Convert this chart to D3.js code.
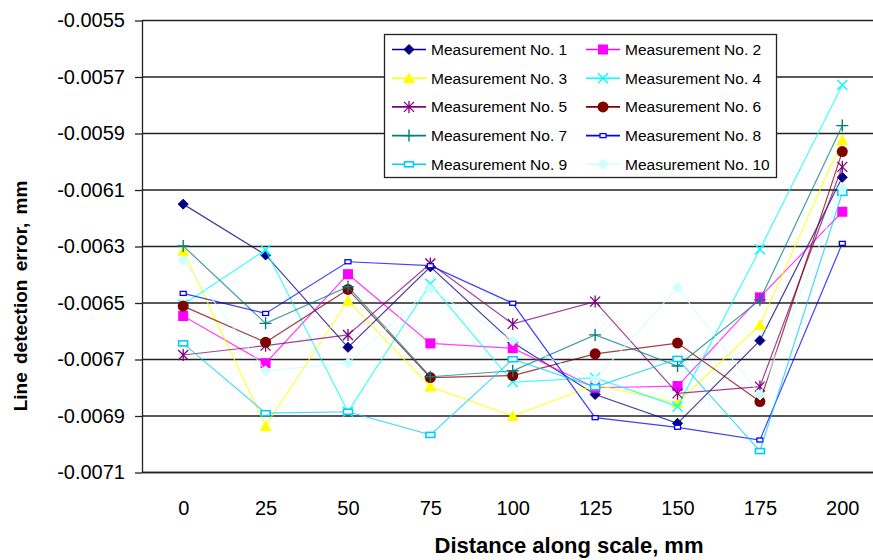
<!DOCTYPE html>
<html>
<head>
<meta charset="utf-8">
<script src="https://cdn.jsdelivr.net/npm/d3@7"></script>
<style>
  body { margin: 0; background: #fff; }
  text { font-family: "Liberation Sans", Arial, sans-serif; fill: #000; }
</style>
</head>
<body>
<script>
// categories along the scale (mm)
let distances = ["0", "25", "50", "75", "100", "125", "150", "175", "200"];

let m1  = [-0.006150, -0.006330, -0.006657, -0.006372, -0.006640, -0.006824, -0.006926, -0.006633, -0.006055];
let m2  = [-0.006546, -0.006713, -0.006398, -0.006643, -0.006660, -0.006800, -0.006794, -0.006480, -0.006177];
let m3  = [-0.006315, -0.006935, -0.006492, -0.006796, -0.006900, -0.006790, -0.006853, -0.006578, -0.005923];
let m4  = [-0.006505, -0.006312, -0.006885, -0.006432, -0.006780, -0.006765, -0.006866, -0.006310, -0.005728];
let m5  = [-0.006684, -0.006651, -0.006613, -0.006360, -0.006574, -0.006495, -0.006820, -0.006796, -0.006018];
let m6  = [-0.006511, -0.006639, -0.006452, -0.006764, -0.006757, -0.006680, -0.006642, -0.006849, -0.005964];
let m7  = [-0.006298, -0.006572, -0.006442, -0.006761, -0.006740, -0.006613, -0.006723, -0.006489, -0.005872];
let m8  = [-0.006466, -0.006537, -0.006354, -0.006368, -0.006501, -0.006906, -0.006940, -0.006985, -0.006289];
let m9  = [-0.006643, -0.006890, -0.006885, -0.006967, -0.006699, -0.006798, -0.006698, -0.007024, -0.006110];
let m10 = [-0.006348, -0.006740, -0.006713, -0.006450, -0.006634, -0.006770, -0.006446, -0.006826, -0.006094];

let seriesNames = ["Measurement No. 1", "Measurement No. 2", "Measurement No. 3", "Measurement No. 4",
                   "Measurement No. 5", "Measurement No. 6", "Measurement No. 7", "Measurement No. 8",
                   "Measurement No. 9", "Measurement No. 10"];
let seriesValues = [m1, m2, m3, m4, m5, m6, m7, m8, m9, m10];

let yTicks = [-0.0055, -0.0057, -0.0059, -0.0061, -0.0063, -0.0065, -0.0067, -0.0069, -0.0071];

// styles (excel-ish palette and marker kinds)
let colors  = ["#000080", "#ff00ff", "#ffff00", "#00ffff", "#800080", "#800000", "#008080", "#0000ff", "#00ccff", "#ccffff"];
let markers = ["diamond", "square", "triangle", "x", "star", "circle", "plus", "smallrect", "rect", "diamond"];

let W = 873, H = 560;
let plot = {left: 142, top: 20.5, bottom: 472.5, right: 883.5};

let svg = d3.select("body").append("svg")
    .attr("width", W)
    .attr("height", H);

let xScale = d3.scalePoint().domain(distances).range([plot.left, plot.right]).padding(0.5);
let yScale = d3.scaleLinear().domain([-0.0071, -0.0055]).range([plot.bottom, plot.top]);

// gridlines
svg.append("g")
  .selectAll("line")
  .data(yTicks)
  .enter().append("line")
    .attr("x1", plot.left).attr("x2", W)
    .attr("y1", d => yScale(d)).attr("y2", d => yScale(d))
    .attr("stroke", "#222").attr("stroke-width", 1.3);

// y axis
let yAxis = svg.append("g")
  .attr("transform", "translate(" + plot.left + ",0)")
  .call(d3.axisLeft(yScale).tickValues(yTicks).tickSize(7).tickSizeOuter(0)
        .tickFormat(d => d3.format(".4f")(d).replace("\u2212", "-")));
yAxis.select(".domain").attr("stroke", "#222").attr("stroke-width", 1.3);
yAxis.selectAll(".tick line").attr("stroke", "#222").attr("stroke-width", 1.3);
yAxis.selectAll(".tick text")
  .attr("x", -17)
  .style("font-size", "20px")
  .style("font-family", "Liberation Sans, Arial, sans-serif");

// x axis (no tick marks, just labels)
let xAxis = svg.append("g")
  .attr("transform", "translate(0," + plot.bottom + ")")
  .call(d3.axisBottom(xScale).tickSize(0).tickPadding(28));
xAxis.select(".domain").attr("d", "M" + plot.left + ",0H" + W).attr("stroke", "#222").attr("stroke-width", 1.3);
xAxis.selectAll(".tick text")
  .style("font-size", "20px")
  .style("font-family", "Liberation Sans, Arial, sans-serif");

// axis titles
svg.append("text")
  .attr("x", 569).attr("y", 553)
  .attr("text-anchor", "middle")
  .style("font-size", "22px").style("font-weight", "bold")
  .text("Distance along scale, mm");

svg.append("text")
  .attr("transform", "translate(27,296) rotate(-90)")
  .attr("text-anchor", "middle")
  .style("font-size", "19px").style("font-weight", "bold")
  .style("word-spacing", "3px")
  .text("Line detection error, mm");

// marker drawing
function drawMarker(g, kind, color) {
  if (kind === "diamond") {
    g.append("path").attr("d", "M0,-5L5,0L0,5L-5,0Z").attr("fill", color).attr("stroke", color);
  } else if (kind === "square") {
    g.append("rect").attr("x", -5).attr("y", -5).attr("width", 10).attr("height", 10).attr("fill", color);
  } else if (kind === "triangle") {
    g.append("path").attr("d", "M0,-6L6,5L-6,5Z").attr("fill", color);
  } else if (kind === "circle") {
    g.append("circle").attr("r", 5.5).attr("fill", color);
  } else if (kind === "x") {
    g.append("path").attr("d", "M-5,-5L5,5M-5,5L5,-5").attr("stroke", color).attr("stroke-width", 1.4);
  } else if (kind === "plus") {
    g.append("path").attr("d", "M-6,0H6M0,-6V6").attr("stroke", color).attr("stroke-width", 1.4);
  } else if (kind === "star") {
    g.append("path").attr("d", "M-5,-5L5,5M-5,5L5,-5M0,-6V6").attr("stroke", color).attr("stroke-width", 1.3);
  } else if (kind === "smallrect") {
    g.append("rect").attr("x", -3).attr("y", -2).attr("width", 6).attr("height", 4)
      .attr("fill", "#fff").attr("stroke", color).attr("stroke-width", 1.3);
  } else if (kind === "rect") {
    g.append("rect").attr("x", -4.5).attr("y", -2.5).attr("width", 9).attr("height", 5)
      .attr("fill", "#fff").attr("stroke", color).attr("stroke-width", 1.6);
  }
}

let line = d3.line()
  .x((d, i) => xScale(distances[i]))
  .y(d => yScale(d));

let series = svg.append("g").selectAll("g.series")
  .data(seriesValues)
  .enter().append("g")
    .attr("class", "series");

series.append("path")
  .attr("d", d => line(d))
  .attr("fill", "none")
  .attr("stroke", (d, i) => colors[i])
  .attr("stroke-width", 1.2)
  .attr("stroke-opacity", 0.75);

series.each(function(vals, si) {
  d3.select(this).selectAll("g.mk")
    .data(vals)
    .enter().append("g")
      .attr("class", "mk")
      .attr("transform", (d, i) => "translate(" + xScale(distances[i]) + "," + yScale(d) + ")")
      .each(function() { drawMarker(d3.select(this), markers[si], colors[si]); });
});

// legend
let legend = svg.append("g");
legend.append("rect")
  .attr("x", 384.5).attr("y", 34.5).attr("width", 392).attr("height", 143)
  .attr("fill", "#fff").attr("stroke", "#222").attr("stroke-width", 1.3);

let colX = [392, 586];
let rowY = d3.range(5).map(r => 49.5 + r * 28.7);

seriesNames.forEach(function(name, i) {
  let g = legend.append("g")
    .attr("transform", "translate(" + colX[i % 2] + "," + rowY[Math.floor(i / 2)] + ")");
  g.append("line").attr("x1", 0).attr("x2", 34).attr("y1", 0).attr("y2", 0)
    .attr("stroke", colors[i]).attr("stroke-width", 1.6);
  drawMarker(g.append("g").attr("transform", "translate(17,0)"), markers[i], colors[i]);
  g.append("text")
    .attr("x", 39).attr("y", 0).attr("dy", "0.35em")
    .style("font-size", "15.5px")
    .text(name);
});
</script>
</body>
</html>
